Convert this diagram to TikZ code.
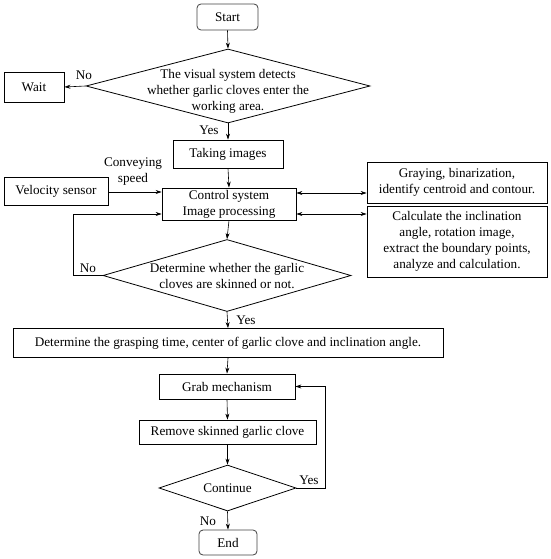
\documentclass[tikz,border=0pt]{standalone}
\usepackage{fontspec}
\setmainfont{Liberation Serif}
\usetikzlibrary{shapes.geometric,arrows.meta,calc}
\begin{document}
\begin{tikzpicture}[x=1pt,y=-1pt,
  box/.style={draw, line width=0.8pt, inner sep=0pt, align=center, font=\fontsize{13.2}{16}\selectfont},
  term/.style={box, rounded corners=4pt, draw=black!75},
  dia/.style={draw, diamond, line width=0.8pt, inner sep=0pt},
  txt/.style={inner sep=0pt, align=center, font=\fontsize{13.2}{16}\selectfont},
  arr/.style={-{Stealth[length=6pt,width=4pt]}, line width=0.6pt},
  darr/.style={{Stealth[length=6pt,width=4pt]}-{Stealth[length=6pt,width=4pt]}, line width=0.6pt},
  ln/.style={line width=0.6pt}]
\useasboundingbox (0,0) rectangle (550,559);

\node[term, minimum width=61pt, minimum height=26pt] (start) at (227.5,17) {Start};
\node[dia, minimum width=284pt, minimum height=74pt] (d1) at (228,86) {};
\node[txt] (d1t) at (228,91) {The visual system detects\\whether garlic cloves enter the\\working area.};
\node[box, minimum width=60pt, minimum height=30pt] (wait) at (34,87) {Wait};
\node[box, minimum width=110pt, minimum height=28pt] (take) at (228,154) {Taking images};
\node[box, minimum width=134pt, minimum height=32pt] (ctrl) at (229,204) {Control system\\Image processing};
\node[box, minimum width=104pt, minimum height=28pt] (vel) at (56,191) {Velocity sensor};
\node[box, minimum width=180pt, minimum height=41pt] (gray) at (457,182.5) {Graying, binarization,\\identify centroid and contour.};
\node[box, minimum width=180pt, minimum height=71pt] (calc) at (457,241.5) {Calculate the inclination\\angle, rotation image,\\extract the boundary points,\\analyze and calculation.};
\node[dia, minimum width=248pt, minimum height=72pt] (d2) at (227,275.5) {};
\node[txt] (d2t) at (227,276) {Determine whether the garlic\\cloves are skinned or not.};
\node[box, minimum width=430pt, minimum height=29pt] (det) at (228,343) {Determine the grasping time, center of garlic clove and inclination angle.};
\node[box, minimum width=136pt, minimum height=25pt] (grab) at (227,386.5) {Grab mechanism};
\node[box, minimum width=177pt, minimum height=24pt] (remove) at (227.5,432) {Remove skinned garlic clove};
\node[dia, minimum width=137pt, minimum height=46pt] (cont) at (227.5,488) {};
\node[txt] (contt) at (227.5,488) {Continue};
\node[term, minimum width=58pt, minimum height=25pt] (end) at (228,542.5) {End};

\node[txt] (lno1) at (84,75) {No};
\node[txt] (lyes1) at (209,130) {Yes};
\node[txt] (lconv) at (133,172) {Conveying\\speed};
\node[txt] (lno2) at (88,268) {No};
\node[txt] (lyes2) at (246,320) {Yes};
\node[txt] (lyes3) at (309,480) {Yes};
\node[txt] (lno3) at (208,521) {No};

\draw[arr] (start.south) -- (d1.north);
\draw[arr] (d1.west) -- (wait.east);
\draw[arr] (d1.south) -- (take.north);
\draw[arr] (take.south) -- (ctrl.north);
\draw[arr] (vel.east |- 0,192) -- (ctrl.west |- 0,192);
\draw[darr] ([yshift=11pt]ctrl.east) -- ([yshift=11pt]ctrl.east -| gray.west);
\draw[darr] ([yshift=-10pt]ctrl.east) -- ([yshift=-10pt]ctrl.east -| calc.west);
\draw[arr] (ctrl.south) -- (d2.north);
\draw[arr] (d2.west) -- ++(-29,0) |- ([yshift=-10pt]ctrl.west);
\draw[arr] (d2.south) -- (det.north);
\draw[arr] (det.south) -- (grab.north);
\draw[arr] (grab.south) -- (remove.north);
\draw[arr] (remove.south) -- (cont.north);
\draw[arr] (cont.south) -- (end.north);
\draw[arr] (cont.east) -- ++(29,0) |- (grab.east);
\end{tikzpicture}
\end{document}
